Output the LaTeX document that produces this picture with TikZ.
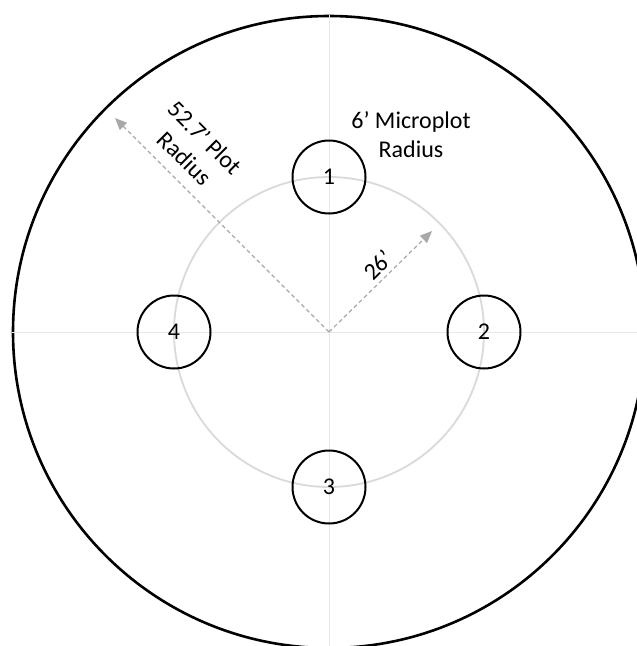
\documentclass[tikz,border=0pt]{standalone}
\usepackage{fontspec}
\setmainfont{Carlito}
\usetikzlibrary{arrows.meta}
\definecolor{axisgray}{RGB}{232,232,232}
\definecolor{ringgray}{RGB}{218,218,218}
\definecolor{arrowgray}{RGB}{168,168,168}
\tikzset{
  axisline/.style={draw=axisgray, line width=1pt},
  ring/.style={draw=ringgray, line width=1.8pt},
  plotcircle/.style={circle, draw=black, line width=2.6pt, minimum size=632pt, inner sep=0pt},
  micro/.style={circle, draw=black, line width=2pt, minimum size=73pt, inner sep=0pt, font=\fontsize{24}{29}\selectfont},
  radarrow/.style={draw=arrowgray, line width=1.2pt, dash pattern=on 4pt off 3pt, -{Triangle[length=12pt,width=10pt,fill=arrowgray]}},
  lbl/.style={align=center, inner sep=0pt, font=\fontsize{24}{29}\selectfont}
}
\begin{document}
\begin{tikzpicture}[x=1pt,y=-1pt]
\useasboundingbox (0,0) rectangle (637,646);
\clip (0,0) rectangle (637,646);
\fill[white] (0,0) rectangle (637,646);
\coordinate (c) at (329,332);
% plot circle
\node[plotcircle] (plot) at (c) {};
% axes
\draw[axisline] (plot.west) -- (plot.east);
\draw[axisline] (plot.north) -- (plot.south);
% 26' ring
\draw[ring] (c) circle[radius=155];
% microplots
\node[micro] (m1) at (329,177) {1};
\node[micro] (m2) at (484,332) {2};
\node[micro] (m3) at (329,487) {3};
\node[micro] (m4) at (174,332) {4};
% radius arrows
\coordinate (t1) at (115,118);
\coordinate (t2) at (432,231);
\draw[radarrow] (c) -- (t1);
\draw[radarrow] (c) -- (t2);
% labels
\node[lbl, rotate=-45] (plotlbl) at (195,148) {52.7’ Plot\\Radius};
\node[lbl] (microlbl) at (411,135) {6’ Microplot\\Radius};
\node[lbl, rotate=45] (ringlbl) at (378,265) {26’};
\end{tikzpicture}
\end{document}
